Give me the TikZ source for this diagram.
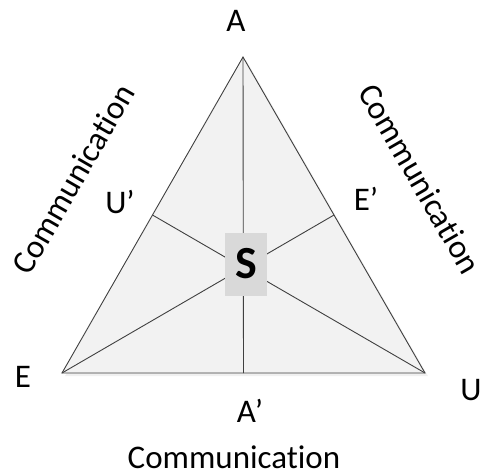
\documentclass[tikz,border=0pt]{standalone}
\usepackage{fontspec}
\setmainfont{Carlito}[Ligatures=NoCommon]
\usepackage{xcolor}
\usetikzlibrary{calc}

\definecolor{edgegray}{HTML}{404040}
\definecolor{facegray}{HTML}{F2F2F2}
\definecolor{boxgray}{HTML}{D9D9D9}

\tikzset{
  side/.style={draw=edgegray,line width=0.9pt},
  label/.style={font=\fontsize{33}{38}\selectfont,inner sep=0pt},
  commlabel/.style={font=\fontsize{33}{38}\selectfont,inner sep=0pt}
}

\begin{document}
\begin{tikzpicture}[x=1pt,y=-1pt]

  \useasboundingbox (0,0) rectangle (481,475);

  %% ---- Corners and midpoints ----
  \coordinate (A) at (243,57);
  \coordinate (E) at (62,373);
  \coordinate (U) at (425,373);
  \coordinate (Ap) at ($ (E)!0.5!(U) $);
  \coordinate (Up) at ($ (A)!0.5!(E) $);
  \coordinate (Ep) at ($ (A)!0.5!(U) $);

  %% ---- Triangle with soft shadow ----
  \fill[black!6] ([shift={(3,3)}]A) -- ([shift={(3,3)}]E) -- ([shift={(3,3)}]U) -- cycle;
  \fill[facegray] (A) -- (E) -- (U) -- cycle;

  % Medians
  \draw[side] (A) -- (Ap);
  \draw[side] (E) -- (Ep);
  \draw[side] (U) -- (Up);

  \draw[side,line join=miter] (A) -- (E) -- (U) -- cycle;

  %% ---- Centre box ----
  \node[fill=boxgray,minimum width=42pt,minimum height=63pt,inner sep=0pt,
        font=\fontsize{46}{52}\selectfont\bfseries] (S) at (246,264) {S};

  %% ---- Vertex and midpoint labels ----
  \node[label] (labA) at (236,21) {A};
  \node[label] (labE) at (23,377) {E};
  \node[label] (labU) at (471,390) {U};
  \node[label] (labAp) at (250,411) {A’};
  \node[label] (labUp) at (120,202) {U’};
  \node[label] (labEp) at (366,199) {E’};

  %% ---- Side labels ----
  \node[commlabel,rotate=60] (commL) at (73,179) {Communication};
  \node[commlabel,rotate=-60] (commR) at (420,179) {Communication};
  \node[commlabel] (commB) at (234,457) {Communication};

\end{tikzpicture}
\end{document}
